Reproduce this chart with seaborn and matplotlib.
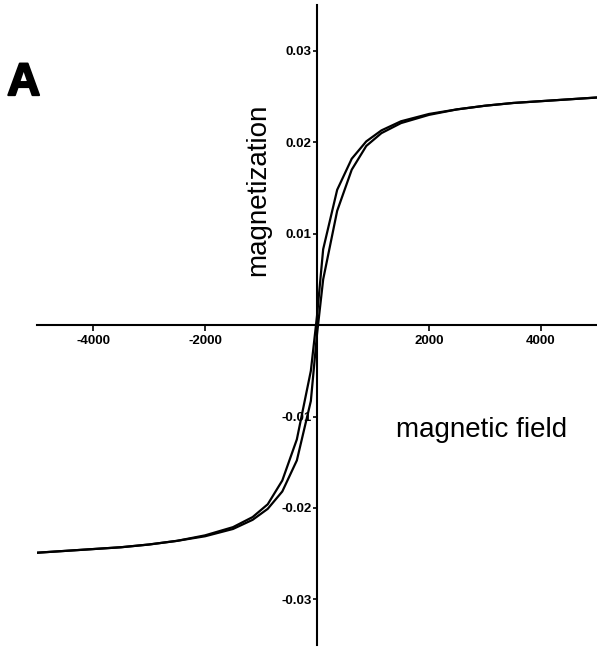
import numpy as np
import pandas as pd
import matplotlib
matplotlib.use('Agg')
import matplotlib.pyplot as plt
import matplotlib.patheffects as pe
import seaborn as sns

sns.set_style("ticks")
plt.rcParams['font.family'] = ['Liberation Sans', 'DejaVu Sans']
plt.rcParams['text.color'] = 'black'
plt.rcParams['xtick.color'] = 'black'
plt.rcParams['ytick.color'] = 'black'
plt.rcParams['axes.edgecolor'] = 'black'

# field (Oe) and magnetization for the two branches of the loop
field = [-5000, -4500, -4000, -3500, -3000, -2500, -2000, -1500, -1150, -880, -620, -360, -110,
         0, 110, 360, 620, 880, 1150, 1500, 2000, 2500, 3000, 3500, 4000, 4500, 5000]
m_left = [-0.0249, -0.0247, -0.0245, -0.0243, -0.0240, -0.0236, -0.0230, -0.0221, -0.0210, -0.0196,
          -0.0170, -0.0125, -0.0050, 0.0010, 0.0083, 0.0148, 0.0182, 0.0201, 0.0213, 0.0223,
          0.0231, 0.0236, 0.0240, 0.0243, 0.0245, 0.0247, 0.0249]
m_right = [-0.0249, -0.0247, -0.0245, -0.0243, -0.0240, -0.0236, -0.0231, -0.0223, -0.0213, -0.0201,
           -0.0182, -0.0148, -0.0083, -0.0010, 0.0050, 0.0125, 0.0170, 0.0196, 0.0210, 0.0221,
           0.0230, 0.0236, 0.0240, 0.0243, 0.0245, 0.0247, 0.0249]

x_ticks = [-4000, -2000, 2000, 4000]
y_ticks = [-0.03, -0.02, -0.01, 0.01, 0.02, 0.03]

df = pd.concat([
    pd.DataFrame({'field': field, 'm': m_left, 'branch': 'left'}),
    pd.DataFrame({'field': field, 'm': m_right, 'branch': 'right'}),
])

fig = plt.figure(figsize=(5.97, 6.47), dpi=100)
ax = fig.add_axes([0.062, 0.003, 0.938, 0.989])

for b, sub in df.groupby('branch'):
    sns.lineplot(data=sub, x='field', y='m', sort=False, color='black', lw=1.6, ax=ax)

ax.set_xlim(-5000, 5000)
ax.set_ylim(-0.035, 0.035)
ax.set_xlabel('')
ax.set_ylabel('')

for s in ['top', 'right']:
    ax.spines[s].set_visible(False)
ax.spines['left'].set_position(('data', 0))
ax.spines['bottom'].set_position(('data', 0))
ax.spines['left'].set_linewidth(1.5)
ax.spines['bottom'].set_linewidth(1.5)

ax.set_xticks(x_ticks)
ax.set_xticklabels([str(v) for v in x_ticks], fontsize=9.5, fontweight='bold')
ax.set_yticks(y_ticks)
ax.set_yticklabels([f"{v:.2f}" for v in y_ticks], fontsize=9.5, fontweight='bold')
ax.tick_params(axis='x', direction='out', length=4, width=1.2, pad=3)
ax.tick_params(axis='y', direction='out', length=3, width=1.2, pad=1)

ax.text(-1054, 0.0148, 'magnetization', rotation=90, ha='center', va='center', fontsize=20)
ax.text(2930, -0.0115, 'magnetic field', ha='center', va='center', fontsize=20)
fig.text(0.012, 0.853, 'A', fontsize=33, fontweight='heavy', ha='left', va='baseline',
         path_effects=[pe.withStroke(linewidth=1.5, foreground='black')])

fig.savefig('out.png', dpi=100)
